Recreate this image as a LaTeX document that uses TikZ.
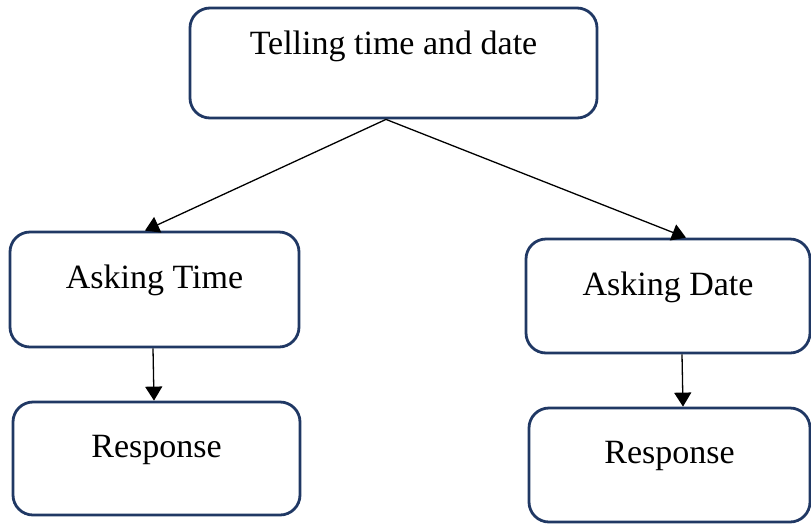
\documentclass[tikz,border=0pt]{standalone}
\usepackage{fontspec}
\setmainfont{Liberation Serif}
\usetikzlibrary{arrows.meta}
\definecolor{boxnavy}{HTML}{203864}
\tikzset{
  box/.style={draw=boxnavy, line width=2.8pt, rounded corners=20pt, inner sep=0pt,
    font=\fontsize{34}{37}\selectfont, text height=24pt, text depth=27pt, align=center},
  conn/.style={draw=black, line width=1.3pt, -{Triangle[width=17pt,length=14pt]}}
}
\begin{document}
\begin{tikzpicture}[x=1pt,y=-1pt]
\useasboundingbox (0,0) rectangle (811,523);
\node[box, minimum width=407pt, minimum height=110pt, text depth=42pt] (top) at (393.5,63) {Telling time and date};
\node[box, minimum width=289pt, minimum height=115pt] (at) at (154.5,289.5) {Asking Time};
\node[box, minimum width=287pt, minimum height=113pt] (rl) at (156.5,458.5) {Response};
\node[box, minimum width=284pt, minimum height=114pt, text depth=26pt] (ad) at (668,296) {Asking Date};
\node[box, minimum width=281pt, minimum height=114pt] (rr) at (669.5,465) {Response};
\coordinate (src) at ([xshift=-7.5pt]top.south);
\draw[conn] (src) -- ([xshift=-9.5pt]at.north);
\draw[conn] (src) -- ([xshift=18pt]ad.north);
\draw[conn] ([xshift=-1.5pt]at.south) -- ([xshift=-2.5pt]rl.north);
\draw[conn] ([xshift=14pt]ad.south) -- ([xshift=13.5pt]rr.north);
\end{tikzpicture}
\end{document}
